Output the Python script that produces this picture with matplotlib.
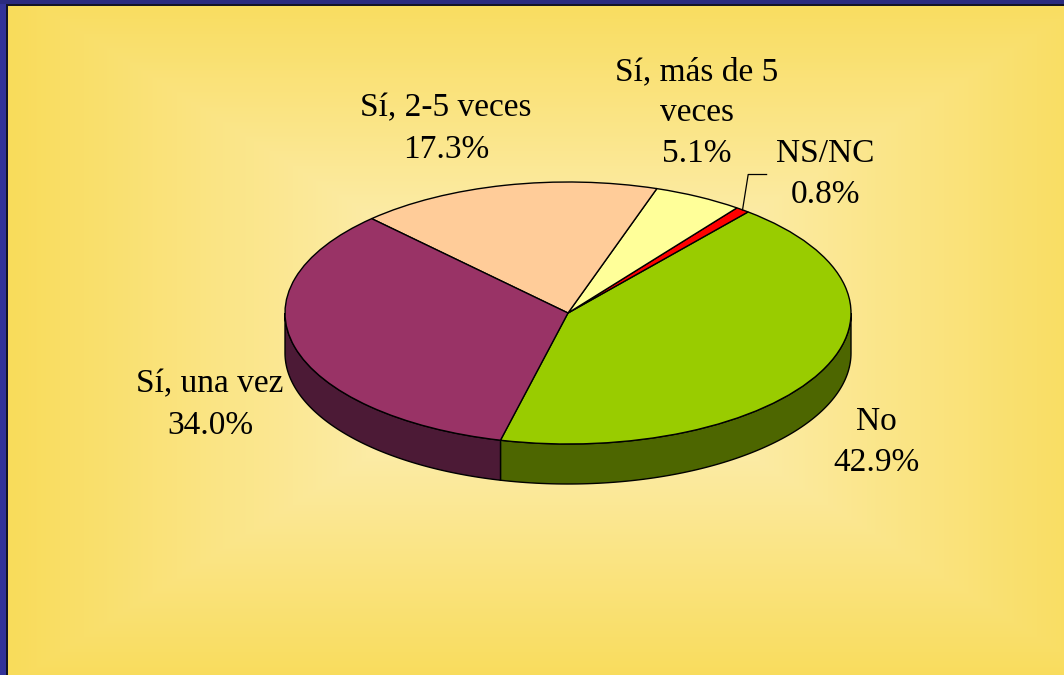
import numpy as np
import matplotlib
matplotlib.use("Agg")
import matplotlib.pyplot as plt

# datos
categorias = ["No", "NS/NC", "Sí, más de 5\nveces", "Sí, 2-5 veces", "Sí, una vez"]
valores = [42.9, 0.8, 5.1, 17.3, 34.0]
colores = ["#99CC00", "#FF0000", "#FFFF99", "#FFCC99", "#993366"]
colores_lado = ["#4D6600", "#800000", "#80804D", "#806633", "#4C1A36"]

W, H = 1064, 675
fig = plt.figure(figsize=(W / 100, H / 100), dpi=100)

# fondo: degradado rectangular amarillo con marco azul
bg = fig.add_axes([0, 0, 1, 1], zorder=0)
yy, xx = np.mgrid[0:H, 0:W]
t = np.maximum(np.abs(xx - 560) / 545.0, np.abs(yy - 335) / 345.0)
t = np.clip(t, 0, 1)
centro = np.array([0.995, 0.955, 0.80])
borde = np.array([0.976, 0.863, 0.36])
img = centro + (borde - centro) * t[..., None]
img[(xx < 6) | (yy < 4)] = [0.2, 0.2, 0.6]
img[yy < 4] = [0.17, 0.17, 0.5]
img[((xx >= 6) & (xx < 8) & (yy >= 4)) | ((yy >= 4) & (yy < 6) & (xx >= 6))] = [0.08, 0.08, 0.15]
bg.imshow(img, aspect="auto", interpolation="bilinear")
bg.axis("off")

# tarta: centro (568,313), radios 283 x 131 px, profundidad 40 px
cx, cy, rx, ry = 568, 313, 283, 131
prof = 40 / ry
ax = fig.add_axes([0, 0, 1, 1], zorder=1)
ax.patch.set_alpha(0)
wedges, _ = ax.pie(valores, colors=colores, startangle=256.2, counterclock=True,
                   wedgeprops=dict(edgecolor="black", linewidth=1.0, zorder=3))
ax.set_aspect("auto")
ax.set_xlim((0 - cx) / rx, (W - cx) / rx)
ax.set_ylim((cy - H) / ry, cy / ry)
ax.axis("off")

# caras laterales visibles (mitad delantera)
for w, col in zip(wedges, colores_lado):
    for base in (0, 360):
        a1 = max(w.theta1, 180 + base)
        a2 = min(w.theta2, 360 + base)
        if a2 <= a1:
            continue
        th = np.radians(np.linspace(a1, a2, 100))
        xs = np.concatenate([np.cos(th), np.cos(th[::-1])])
        ys = np.concatenate([np.sin(th), np.sin(th[::-1]) - prof])
        ax.fill(xs, ys, facecolor=col, edgecolor="black", linewidth=1.0, zorder=2)

# linea guia NS/NC
w = wedges[1]
mid = np.radians((w.theta1 + w.theta2) / 2)
x0, y0 = np.cos(mid), np.sin(mid)
ax.plot([x0, x0 + 0.02, x0 + 0.085], [y0, y0 + 0.27, y0 + 0.27],
        color="black", linewidth=0.9, zorder=4)

# etiquetas
fuente = dict(family="Liberation Serif", fontsize=24, ha="center", va="center",
              linespacing=1.45, color="black")
etiquetas_pos = [(876, 442), (825, 174), (697, 113), (446, 129), (210, 405)]
for cat, val, (px, py) in zip(categorias, valores, etiquetas_pos):
    fig.text(px / W, 1 - py / H, f"{cat}\n{val:.1f}%", **fuente)

plt.savefig("out.png", dpi=100)
plt.close()
